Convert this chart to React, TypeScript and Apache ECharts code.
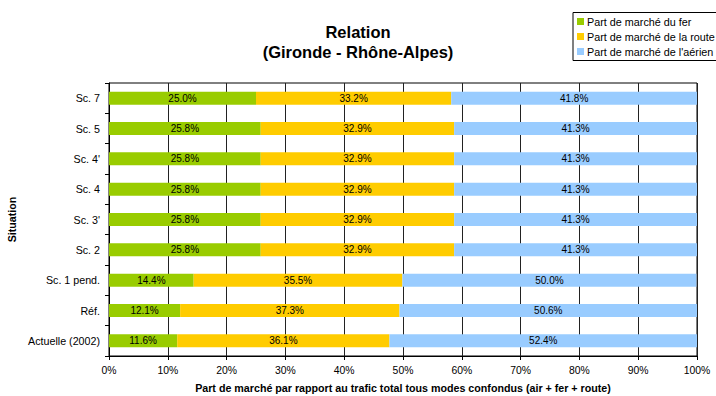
import React, { useEffect, useRef } from "react";
import * as echarts from "echarts";

const categories = ["Actuelle (2002)", "Réf.", "Sc. 1 pend.", "Sc. 2", "Sc. 3'", "Sc. 4", "Sc. 4'", "Sc. 5", "Sc. 7"];
const fer = [11.6, 12.1, 14.4, 25.8, 25.8, 25.8, 25.8, 25.8, 25.0];
const route = [36.1, 37.3, 35.5, 32.9, 32.9, 32.9, 32.9, 32.9, 33.2];
const air = [52.4, 50.6, 50.0, 41.3, 41.3, 41.3, 41.3, 41.3, 41.8];
const seriesNames = ["Part de marché du fer", "Part de marché de la route", "Part de marché de l'aérien"];
const colors = ["#99CC00", "#FFCC00", "#99CCFF"];

const FONT = "'Liberation Sans', Arial, sans-serif";

export default function App() {
  const ref = useRef<HTMLDivElement>(null);
  useEffect(() => {
    if (!ref.current) return;
    const chart = echarts.init(ref.current, null, { renderer: "svg" });
    const mk = (name: string, data: number[], color: string) => ({
      name,
      type: "bar",
      stack: "total",
      data,
      barWidth: 13,
      itemStyle: { color },
      label: {
        show: true,
        position: "inside",
        formatter: (p: any) => p.value.toFixed(1) + "%",
        color: "#000",
        fontSize: 10,
        fontFamily: FONT,
      },
    });
    chart.setOption({
      animation: false,
      textStyle: { fontFamily: FONT },
      graphic: [
        {
          type: "text",
          x: 358,
          y: 41.5,
          style: {
            text: "Relation\n(Gironde - Rhône-Alpes)",
            textAlign: "center",
            textVerticalAlign: "middle",
            fontSize: 16.5,
            fontWeight: "bold",
            fontFamily: FONT,
            lineHeight: 20,
            fill: "#000",
          },
        },
      ],
      legend: {
        orient: "vertical",
        left: 573,
        top: 12.5,
        itemWidth: 7,
        itemHeight: 7,
        itemGap: 2,
        padding: [2.5, 20, 2.5, 4],
        borderColor: "#000",
        borderWidth: 1,
        icon: "rect",
        textStyle: { fontSize: 10.8, lineHeight: 13, fontFamily: FONT, color: "#000", padding: [0, 0, 0, -2] },
        data: seriesNames,
      },
      grid: {
        left: 109,
        right: 19,
        top: 83,
        bottom: 40,
        containLabel: false,
        outerBoundsMode: "none",
        show: true,
        borderColor: "#000",
        borderWidth: 1,
      },
      xAxis: {
        type: "value",
        min: 0,
        max: 100,
        interval: 10,
        name: "Part de marché par rapport au trafic total tous modes confondus (air + fer + route)",
        nameLocation: "middle",
        nameGap: 26,
        nameTextStyle: { fontSize: 10.7, fontWeight: "bold", color: "#000", fontFamily: FONT },
        axisLine: { show: true, lineStyle: { color: "#000" } },
        axisTick: { show: true, length: 4, lineStyle: { color: "#000" } },
        axisLabel: { formatter: "{value}%", fontSize: 10.4, color: "#000", margin: 9, fontFamily: FONT },
        splitLine: { show: true, lineStyle: { color: "#222", width: 1 } },
      },
      yAxis: {
        type: "category",
        data: categories,
        name: "Situation",
        nameLocation: "middle",
        nameRotate: 90,
        nameGap: 88,
        nameTextStyle: { fontSize: 10.7, fontWeight: "bold", color: "#000", fontFamily: FONT },
        axisLine: { show: true, lineStyle: { color: "#000" } },
        axisTick: { show: true, length: 4, alignWithLabel: false, lineStyle: { color: "#000" } },
        axisLabel: { fontSize: 10.7, color: "#000", margin: 9, fontFamily: FONT },
        splitLine: { show: false },
      },
      series: [mk(seriesNames[0], fer, colors[0]), mk(seriesNames[1], route, colors[1]), mk(seriesNames[2], air, colors[2])],
    });
    return () => chart.dispose();
  }, []);
  return <div ref={ref} style={{ width: 716, height: 396, position: "absolute", left: 0, top: 0, background: "#fff" }} />;
}
